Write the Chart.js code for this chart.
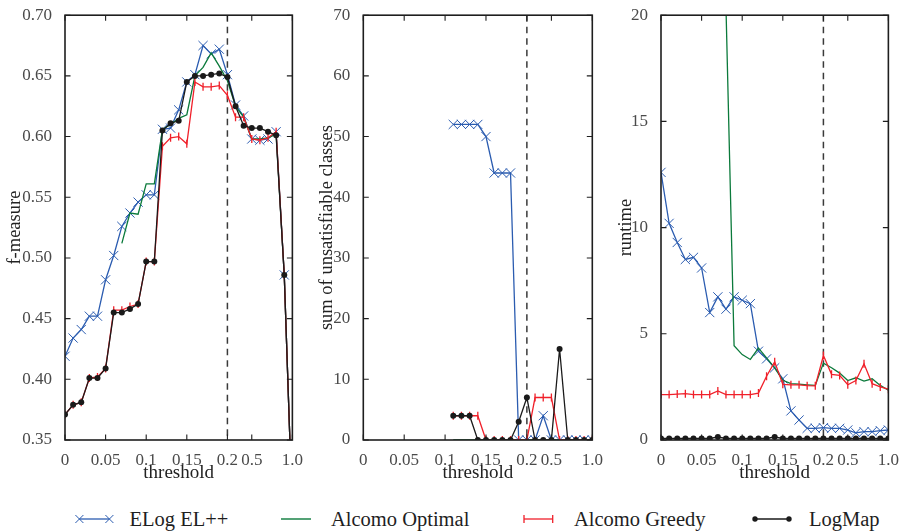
<!DOCTYPE html>
<html>
<head>
<meta charset="utf-8">
<script src="https://cdn.jsdelivr.net/npm/chart.js@4.4.1/dist/chart.umd.min.js"></script>
<style>
  html, body { margin: 0; padding: 0; background: #fff; }
  #wrap { position: relative; width: 901px; height: 531px; overflow: hidden; }
  #wrap canvas { position: absolute; top: 0; }
  .lg-mark { position: absolute; top: 506px; }
  .lg-text {
    position: absolute; top: 507px; white-space: nowrap;
    font-family: "Liberation Serif", "DejaVu Serif", serif; font-size: 20.5px; line-height: 24px;
    color: #1e1e1e;
  }
</style>
</head>
<body>
<div id="wrap">
  <canvas id="cF" width="305" height="490" style="left:0px"></canvas>
  <canvas id="cU" width="300" height="490" style="left:305px"></canvas>
  <canvas id="cR" width="296" height="490" style="left:605px"></canvas>

  <svg class="lg-mark" style="left:72px" width="46" height="26">
    <line x1="7.4" y1="13" x2="37.4" y2="13" stroke="#2b5cb0" stroke-width="1.3"/>
    <path d="M3.4 9L11.4 17M11.4 9L3.4 17M33.4 9L41.4 17M41.4 9L33.4 17" stroke="#2b5cb0" stroke-width="1"/>
  </svg>
  <span class="lg-text" style="left:129.5px">ELog EL++</span>

  <svg class="lg-mark" style="left:278px" width="36" height="26">
    <line x1="3" y1="13" x2="33" y2="13" stroke="#0b7a3b" stroke-width="1.4"/>
  </svg>
  <span class="lg-text" style="left:331px">Alcomo Optimal</span>

  <svg class="lg-mark" style="left:520px" width="36" height="26">
    <line x1="4" y1="13" x2="32.7" y2="13" stroke="#f0202a" stroke-width="1.3"/>
    <path d="M4 9L4 17M32.7 9L32.7 17" stroke="#f0202a" stroke-width="1.3"/>
  </svg>
  <span class="lg-text" style="left:574px">Alcomo Greedy</span>

  <svg class="lg-mark" style="left:751px" width="42" height="26">
    <line x1="4" y1="13" x2="38" y2="13" stroke="#1a1a1a" stroke-width="1.3"/>
    <circle cx="4" cy="13" r="2.7" fill="#1a1a1a"/>
    <circle cx="38" cy="13" r="2.7" fill="#1a1a1a"/>
  </svg>
  <span class="lg-text" style="left:809px">LogMap</span>
</div>

<script>
// Threshold steps: 0.00 .. 0.20 in 0.01 steps, then 0.3 .. 1.0
const thresholds = ['0','0.01','0.02','0.03','0.04','0.05','0.06','0.07','0.08','0.09',
  '0.1','0.11','0.12','0.13','0.14','0.15','0.16','0.17','0.18','0.19','0.2',
  '0.3','0.4','0.5','0.6','0.7','0.8','0.9','1.0'];
const tickLabels = ['0','0.05','0.1','0.15','0.2','0.5','1.0'];
const markedThreshold = '0.2';

// f-measure
const elogF = [0.419,0.434,0.441,0.452,0.452,0.482,0.502,0.526,0.537,0.546,0.552,0.552,0.606,0.607,0.622,0.645,0.651,0.675,0.668,0.672,0.651,0.626,0.617,0.598,0.597,0.598,0.604,0.486,0.29];
const optimalF = [null,null,null,null,null,null,null,0.512,0.537,0.536,0.561,0.561,0.606,0.610,0.615,0.618,0.650,0.657,0.669,0.658,0.646,0.625,0.616,0.598,0.598,0.599,0.602,0.486,0.29];
const greedyF = [0.371,0.379,0.381,0.401,0.402,0.409,0.457,0.457,0.460,0.462,0.497,0.497,0.592,0.599,0.600,0.594,0.645,0.641,0.641,0.642,0.634,0.616,0.616,0.598,0.597,0.599,0.604,0.486,0.29];
const logmapF = [0.371,0.379,0.381,0.401,0.401,0.409,0.455,0.455,0.458,0.462,0.497,0.497,0.605,0.611,0.613,0.645,0.650,0.650,0.651,0.652,0.649,0.625,0.609,0.607,0.607,0.604,0.601,0.486,0.29];

// sum of unsatisfiable classes
const elogU = [null,null,null,null,null,null,null,null,null,null,null,52,52,52,52,50,44,44,44,0,0,0,4,0,0,0,0,0,0];
const optimalU = [null,null,null,null,null,null,null,null,null,null,null,0,0,0,0,0,0,0,0,0,0,0,0,0,0,0,0,0,0];
const greedyU = [null,null,null,null,null,null,null,null,null,null,null,4,4,4,4,0,0,0,0,0,0,7,7,7,0,0,0,0,0];
const logmapU = [null,null,null,null,null,null,null,null,null,null,null,4,4,4,0,0,0,0,0,3,7,0,0,0,15,0,0,0,0];

// runtime
const elogR = [12.6,10.2,9.3,8.5,8.6,8.1,6.0,6.74,6.16,6.74,6.58,6.42,4.18,3.82,3.4,2.88,1.37,0.94,0.55,0.55,0.58,0.55,0.55,0.47,0.34,0.39,0.39,0.44,0.47];
const optimalR = [null,null,null,null,null,null,null,null,20.4,4.44,4.02,3.79,4.33,3.87,3.4,2.81,2.65,2.63,2.6,2.57,3.62,3.4,3.15,2.8,2.93,2.77,2.88,2.57,2.34];
const greedyR = [2.14,2.14,2.16,2.18,2.14,2.14,2.14,2.31,2.14,2.14,2.14,2.14,2.21,3.0,3.68,2.62,2.6,2.6,2.56,2.55,3.98,3.09,3.04,2.6,2.8,3.59,2.65,2.5,2.39];
const logmapR = [0.07,0.07,0.07,0.07,0.07,0.07,0.07,0.14,0.07,0.07,0.07,0.07,0.07,0.07,0.14,0.07,0.07,0.07,0.07,0.07,0.07,0.07,0.07,0.07,0.07,0.07,0.07,0.07,0.07];

const BLUE = '#2b5cb0', GREEN = '#0b7a3b', RED = '#f0202a', BLACK = '#1a1a1a';
const SERIF = '"Liberation Serif", "DejaVu Serif", serif';

// Frame, inward tick marks and the dashed marker line
const framePlugin = {
  id: 'frame',
  beforeDatasetsDraw(chart) {
    const { ctx, chartArea: a, scales: { x } } = chart;
    const px = x.getPixelForValue(thresholds.indexOf(markedThreshold));
    ctx.save();
    ctx.strokeStyle = '#3a3a3a';
    ctx.lineWidth = 1.5;
    ctx.setLineDash([6.5, 5]);
    ctx.beginPath();
    ctx.moveTo(px, a.top);
    ctx.lineTo(px, a.bottom);
    ctx.stroke();
    ctx.restore();
  },
  afterDatasetsDraw(chart) {
    const { ctx, chartArea: a, scales: { x, y } } = chart;
    const L = 5.5;
    ctx.save();
    ctx.strokeStyle = '#1e1e1e';
    ctx.lineWidth = 1.1;
    ctx.beginPath();
    y.ticks.forEach(t => {
      const py = y.getPixelForValue(t.value);
      ctx.moveTo(a.left, py); ctx.lineTo(a.left + L, py);
      ctx.moveTo(a.right, py); ctx.lineTo(a.right - L, py);
    });
    thresholds.forEach((lab, i) => {
      if (!tickLabels.includes(lab)) return;
      const px = x.getPixelForValue(i);
      ctx.moveTo(px, a.top); ctx.lineTo(px, a.top + L);
      ctx.moveTo(px, a.bottom); ctx.lineTo(px, a.bottom - L);
    });
    ctx.stroke();
    ctx.lineWidth = 1.6;
    ctx.strokeRect(a.left, a.top, a.right - a.left, a.bottom - a.top);
    ctx.restore();
  }
};

function makeDatasets(elog, optimal, greedy, logmap) {
  const common = { borderWidth: 1.3, tension: 0, clip: 0, spanGaps: false };
  // first entry is drawn on top
  return [
    { ...common, label: 'LogMap', data: logmap, borderColor: BLACK, backgroundColor: BLACK,
      pointStyle: 'circle', pointRadius: 3, pointBorderWidth: 0, pointBackgroundColor: BLACK },
    { ...common, label: 'Alcomo Greedy', data: greedy, borderColor: RED,
      pointStyle: 'line', pointRotation: 90, pointRadius: 4, pointBorderWidth: 1.3, pointBorderColor: RED },
    { ...common, label: 'Alcomo Optimal', data: optimal, borderColor: GREEN, pointRadius: 0 },
    { ...common, label: 'ELog EL++', data: elog, borderColor: BLUE,
      pointStyle: 'crossRot', pointRadius: 6.5, pointBorderWidth: 1, pointBorderColor: BLUE,
      pointBackgroundColor: 'rgba(0,0,0,0)' }
  ];
}

function makeChart(id, datasets, cfg) {
  return new Chart(document.getElementById(id), {
    type: 'line',
    data: { labels: thresholds, datasets },
    options: {
      responsive: false,
      animation: false,
      devicePixelRatio: 1,
      events: [],
      layout: { padding: { left: 0, right: cfg.padRight, top: 12.3, bottom: 0 } },
      plugins: { legend: { display: false }, tooltip: { enabled: false } },
      scales: {
        x: {
          type: 'category',
          offset: false,
          grid: { display: false },
          border: { display: false },
          ticks: {
            autoSkip: false, maxRotation: 0, minRotation: 0, padding: 2,
            color: '#4a4a4a', font: { family: SERIF, size: 17 },
            callback(value) {
              const lab = this.getLabelForValue(value);
              return tickLabels.includes(lab) ? lab : '';
            }
          },
          title: {
            display: true, text: 'threshold', color: '#222',
            font: { family: SERIF, size: 19 }, padding: { top: 0, bottom: 6 }
          },
          afterFit(s) { s.height = 50; }
        },
        y: {
          min: cfg.min, max: cfg.max,
          grid: { display: false },
          border: { display: false },
          ticks: {
            stepSize: cfg.step, padding: 5, color: '#4a4a4a',
            font: { family: SERIF, size: 17 },
            callback: v => Number(v).toFixed(cfg.decimals)
          },
          title: {
            display: true, text: cfg.title, color: '#222',
            font: { family: SERIF, size: 18.5 }, padding: { top: cfg.titlePad, bottom: 0 }
          },
          afterFit(s) { s.width = cfg.yWidth; }
        }
      }
    },
    plugins: [framePlugin]
  });
}

makeChart('cF', makeDatasets(elogF, optimalF, greedyF, logmapF),
  { min: 0.35, max: 0.70, step: 0.05, decimals: 2, title: 'f-measure', titlePad: 4.4, yWidth: 65, padRight: 10 });
makeChart('cU', makeDatasets(elogU, optimalU, greedyU, logmapU),
  { min: 0, max: 70, step: 10, decimals: 0, title: 'sum of unsatisfiable classes', titlePad: 11, yWidth: 58.3, padRight: 12.7 });
makeChart('cR', makeDatasets(elogR, optimalR, greedyR, logmapR),
  { min: 0, max: 20, step: 5, decimals: 0, title: 'runtime', titlePad: 9.7, yWidth: 56, padRight: 11 });
</script>
</body>
</html>
